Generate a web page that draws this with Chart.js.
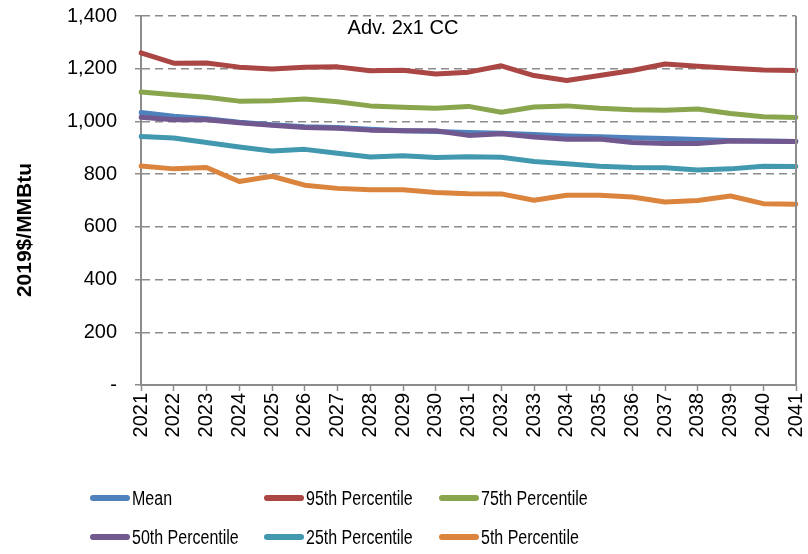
<!DOCTYPE html>
<html>
<head>
<meta charset="utf-8">
<script src="https://cdn.jsdelivr.net/npm/chart.js@4"></script>
<style>
  body { margin: 0; background: #fff; }
  #wrap { position: relative; width: 808px; height: 554px; }
  .leyenda { position: absolute; display: flex; align-items: center; height: 24px;
    font-family: 'Liberation Sans', Arial, sans-serif;
    font-size: 20px; color: #000; white-space: nowrap; }
  .leyenda span.linea { display: inline-block; width: 40px; height: 6px; border-radius: 3px; margin-right: 2px; }
  .leyenda span.texto { display: inline-block; transform: scaleX(0.8); transform-origin: left center; }
</style>
</head>
<body>
<div id="wrap">
  <canvas id="grafico" width="808" height="554"></canvas>
</div>
<script>
const anios = ['2021','2022','2023','2024','2025','2026','2027','2028','2029','2030','2031',
  '2032','2033','2034','2035','2036','2037','2038','2039','2040','2041'];

const media = [1034, 1020, 1010, 997, 987, 980, 977, 970, 965, 962, 958, 955, 950, 945, 942, 938, 935, 931, 928, 926, 924];
const p95 = [1260, 1221, 1222, 1206, 1199, 1206, 1207, 1192, 1194, 1180, 1187, 1211, 1174, 1155, 1174, 1193, 1218, 1209, 1202, 1195, 1193];
const p75 = [1112, 1101, 1092, 1077, 1078, 1085, 1075, 1059, 1054, 1050, 1057, 1035, 1055, 1059, 1050, 1044, 1042, 1047, 1030, 1018, 1015];
const p50 = [1016, 1006, 1006, 995, 985, 977, 974, 967, 965, 965, 947, 953, 941, 932, 933, 920, 916, 916, 926, 925, 924];
const p25 = [943, 937, 920, 903, 888, 894, 879, 865, 870, 863, 866, 864, 848, 839, 830, 825, 824, 816, 820, 830, 829];
const p5 = [831, 820, 825, 772, 792, 758, 746, 741, 741, 730, 726, 725, 701, 720, 720, 713, 694, 700, 717, 688, 686];

const nombres = ['Mean', '95th Percentile', '75th Percentile', '50th Percentile', '25th Percentile', '5th Percentile'];
const series = [media, p95, p75, p50, p25, p5];
const colores = ['#4F81BD', '#AA4643', '#89A54E', '#71588F', '#4198AF', '#DB843D'];

const titulo = 'Adv. 2x1 CC';
const tituloEje = '2019$/MMBtu';

const gris = '#8c8c8c';
const fuente = "'Liberation Sans', Arial, sans-serif";

const textos = {
  id: 'textos',
  afterDraw(chart) {
    const {ctx, chartArea} = chart;
    ctx.save();
    // borde derecho
    ctx.strokeStyle = gris;
    ctx.lineWidth = 2;
    ctx.beginPath();
    ctx.moveTo(chartArea.right, chartArea.top);
    ctx.lineTo(chartArea.right, chartArea.bottom);
    ctx.stroke();

    ctx.fillStyle = '#000';
    ctx.font = '20px ' + fuente;
    ctx.textAlign = 'center';
    ctx.textBaseline = 'middle';
    ctx.fillText(titulo, 403, 28);

    ctx.translate(25, 230);
    ctx.rotate(-Math.PI / 2);
    ctx.font = 'bold 21px ' + fuente;
    ctx.fillText(tituloEje, 0, 0);
    ctx.restore();
  }
};

const datasets = series.map((s, i) => ({
  label: nombres[i],
  data: s,
  borderColor: colores[i],
  backgroundColor: colores[i],
  borderWidth: 5,
  pointRadius: 0,
  tension: 0,
  borderJoinStyle: 'round',
  borderCapStyle: 'round',
  order: i === 0 ? 1 : 0
}));

new Chart(document.getElementById('grafico'), {
  type: 'line',
  data: { labels: anios, datasets },
  options: {
    responsive: false,
    animation: false,
    layout: { padding: { top: 16, right: 12, left: 0, bottom: 0 } },
    plugins: { legend: { display: false }, tooltip: { enabled: false } },
    scales: {
      x: {
        afterFit: s => { s.height = 169; s.paddingLeft = 0; s.paddingRight = 0; },
        grid: { drawOnChartArea: false, drawTicks: true, tickLength: 6, color: gris, tickWidth: 1.5, tickBorderDash: [] },
        border: { color: gris, width: 2 },
        ticks: { minRotation: 90, maxRotation: 90, autoSkip: false, padding: 2, color: '#000', font: { family: fuente, size: 20 } }
      },
      y: {
        min: 0,
        max: 1400,
        afterFit: s => { s.width = 141; s.paddingTop = 0; s.paddingBottom = 0; },
        grid: { color: gris, lineWidth: 1.5, tickLength: 6, tickBorderDash: [], tickWidth: 1.5 },
        border: { color: gris, width: 2, dash: [8, 5] },
        ticks: {
          stepSize: 200,
          padding: 18,
          color: '#000',
          font: { family: fuente, size: 20 },
          callback: v => v === 0 ? '-' : v.toLocaleString('en-US')
        }
      }
    }
  },
  plugins: [textos]
});

// leyenda en dos filas y tres columnas
const columnas = [90, 264, 439];
const filas = [486, 525];
nombres.forEach((nombre, i) => {
  const item = document.createElement('div');
  item.className = 'leyenda';
  item.style.left = columnas[i % 3] + 'px';
  item.style.top = filas[Math.floor(i / 3)] + 'px';
  item.innerHTML = `<span class="linea" style="background:${colores[i]}"></span><span class="texto">${nombre}</span>`;
  document.getElementById('wrap').append(item);
});
</script>
</body>
</html>
